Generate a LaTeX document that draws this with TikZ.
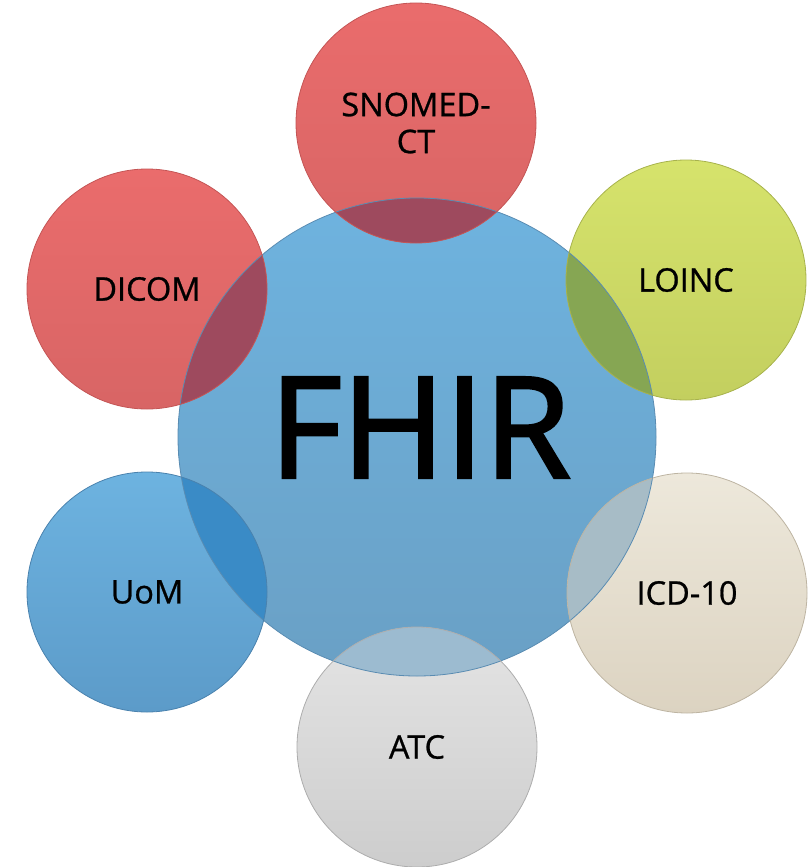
\documentclass[tikz,border=0pt]{standalone}
\usepackage{fontspec}
\setmainfont{Open Sans}
\newfontfamily\heavyfont{Open Sans}[FakeBold=0.8]
\newfontfamily\hubfont{Open Sans}[FakeBold=2.2]
\definecolor{redT}{HTML}{EA6C6C}
\definecolor{redB}{HTML}{D86565}
\definecolor{redE}{HTML}{C45555}
\definecolor{redO}{HTML}{9E4A5E}
\definecolor{grnT}{HTML}{D6E36C}
\definecolor{grnB}{HTML}{C3CF5F}
\definecolor{grnE}{HTML}{A7B24C}
\definecolor{grnO}{HTML}{86A653}
\definecolor{begT}{HTML}{EDE8DB}
\definecolor{begB}{HTML}{DCD3C1}
\definecolor{begE}{HTML}{BDB4A2}
\definecolor{begO}{HTML}{A7BCC6}
\definecolor{gryT}{HTML}{E4E4E4}
\definecolor{gryB}{HTML}{CDCDCD}
\definecolor{gryE}{HTML}{ADADAD}
\definecolor{gryO}{HTML}{9CBBD0}
\definecolor{bluT}{HTML}{6DB3E0}
\definecolor{bluB}{HTML}{5C9BC9}
\definecolor{bluE}{HTML}{4A82AE}
\definecolor{bluO}{HTML}{3A8BC6}
\definecolor{fhT}{HTML}{6EB3DF}
\definecolor{fhB}{HTML}{6AA0C5}
\definecolor{fhE}{HTML}{5A8CB2}
\begin{document}
\begin{tikzpicture}[x=1pt,y=-1pt,
  bubble/.style={circle, minimum size=240pt, inner sep=0pt},
  hub/.style={circle, minimum size=478pt, inner sep=0pt},
  lbl/.style={inner sep=0pt, align=center, text=black, font=\heavyfont\fontsize{32.5}{37}\selectfont},
  rim/.style={line width=0.8pt},
]
\useasboundingbox (0,0) rectangle (810,867);
% central circle
\node[hub, top color=fhT, bottom color=fhB] (fhir) at (417,437) {};
% outer circles
\node[bubble, top color=redT, bottom color=redB] (snomed) at (416,123) {};
\node[bubble, top color=grnT, bottom color=grnB] (loinc) at (686,280) {};
\node[bubble, top color=begT, bottom color=begB] (icd) at (687,593) {};
\node[bubble, top color=gryT, bottom color=gryB] (atc) at (417,747) {};
\node[bubble, top color=bluT, bottom color=bluB] (uom) at (147,592) {};
\node[bubble, top color=redT, bottom color=redB] (dicom) at (147,289) {};
% overlaps
\begin{scope}
  \clip (fhir.center) circle (239pt);
  \fill[redO] (snomed.center) circle (120pt);
  \fill[grnO] (loinc.center) circle (120pt);
  \fill[begO] (icd.center) circle (120pt);
  \fill[gryO] (atc.center) circle (120pt);
  \fill[bluO] (uom.center) circle (120pt);
  \fill[redO] (dicom.center) circle (120pt);
\end{scope}
% rims
\draw[rim, fhE] (fhir.center) circle (239pt);
\draw[rim, redE] (snomed.center) circle (120pt);
\draw[rim, grnE] (loinc.center) circle (120pt);
\draw[rim, begE] (icd.center) circle (120pt);
\draw[rim, gryE] (atc.center) circle (120pt);
\draw[rim, bluE] (uom.center) circle (120pt);
\draw[rim, redE] (dicom.center) circle (120pt);
% labels
\node[inner sep=0pt, font=\hubfont\fontsize{140}{150}\selectfont] (fhirtext) at (420,427.5) {FHIR};
\node[lbl] (snomedtext) at (snomed.center) {SNOMED-\\CT};
\node[lbl] (loinctext) at (loinc.center) {LOINC};
\node[lbl] (icdtext) at (icd.center) {ICD-10};
\node[lbl] (atctext) at (atc.center) {ATC};
\node[lbl] (uomtext) at (uom.center) {UoM};
\node[lbl] (dicomtext) at (dicom.center) {DICOM};
\end{tikzpicture}
\end{document}
